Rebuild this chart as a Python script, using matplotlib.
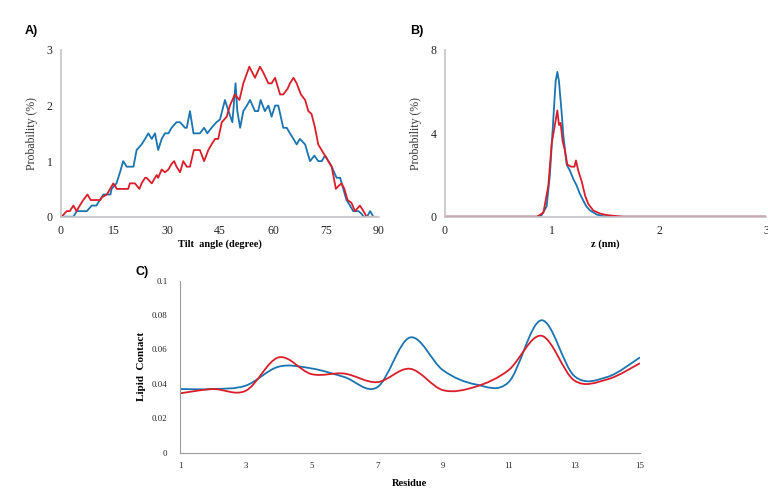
import matplotlib
matplotlib.use("Agg")
import matplotlib.pyplot as plt
from matplotlib.path import Path
from matplotlib.patches import PathPatch
import numpy as np

# A) tilt angle distribution (degree, probability %)
tilt_blue_x = [1, 3.5, 4.5, 7.3, 8.7, 10, 11, 12, 14, 14.3, 15.7, 16.7, 17.6, 18.6, 20.5, 21.4, 22.8,
               23.8, 24.7, 25.7, 26.6, 27.5, 28.5, 29.4, 30.4, 31.3, 32.7, 33.7, 35.1, 35.6, 36.5, 37.5,
               38.4, 39.3, 40.5, 41.4, 42.6, 44, 45, 46.4, 47.4, 48.5, 49.4, 49.9, 50.7, 51.6, 52.6,
               53.5, 54.9, 55.8, 56.5, 57.7, 58.7, 59.6, 60.6, 61.5, 62.9, 63.9, 64.8, 65.8, 66.7, 67.6,
               69.1, 70, 70.5, 71.7, 72.8, 73.8, 74.7, 75.7, 76.6, 78, 79, 79.9, 80.8, 81.8, 82.7, 84.2,
               85.1, 85.6, 86.6, 87.5, 88.4]
tilt_blue_y = [0, 0, 0.1, 0.1, 0.2, 0.2, 0.3, 0.4, 0.4, 0.5, 0.6, 0.8, 1.0, 0.9, 0.9, 1.2, 1.3,
               1.4, 1.5, 1.4, 1.5, 1.2, 1.4, 1.5, 1.5, 1.6, 1.7, 1.7, 1.6, 1.6, 1.9, 1.5,
               1.5, 1.5, 1.6, 1.5, 1.6, 1.7, 1.75, 2.1, 1.9, 1.7, 2.4, 1.9, 1.6, 1.9, 2.0,
               2.1, 1.9, 1.9, 2.1, 1.9, 2.0, 1.8, 2.0, 2.0, 1.6, 1.6, 1.5, 1.4, 1.3, 1.4,
               1.3, 1.1, 1.0, 1.1, 1.0, 1.0, 1.1, 1.0, 0.9, 0.7, 0.7, 0.5, 0.3, 0.2, 0.1, 0.1,
               0.05, 0, 0, 0.1, 0]
tilt_red_x = [0.2, 1.6, 2.5, 3.5, 4.4, 5.3, 6.3, 7.5, 8.4, 9.7, 11.1, 11.6, 13, 13.9, 14.8, 15.8, 17.2,
              19, 19.5, 20.9, 22.2, 22.8, 23.8, 24.2, 25.7, 26.6, 27.1, 27.5, 28.5, 29.4, 30.4, 31.3,
              32, 32.7, 33.7, 34.6, 35.6, 36.5, 37.6, 39.3, 40.5, 41.7, 42.6, 43.6, 44.5, 45.5, 46.9,
              47.8, 49.2, 50.5, 51.6, 53.3, 54.9, 56.3, 57.2, 58.7, 59.6, 60.6, 62, 62.9, 64.1, 64.8,
              65.8, 66.7, 67.9, 69.1, 70, 70.9, 71.9, 72.8, 74.7, 76.6, 77.2, 77.8, 78.5, 79.4, 80.2,
              81.1, 82.2, 83.2, 84.6, 85.6, 86.5]
tilt_red_y = [0, 0.1, 0.1, 0.2, 0.1, 0.2, 0.3, 0.4, 0.3, 0.3, 0.3, 0.35, 0.4, 0.5, 0.6, 0.5, 0.5,
              0.5, 0.6, 0.6, 0.5, 0.6, 0.7, 0.7, 0.6, 0.7, 0.75, 0.7, 0.85, 0.8, 0.85, 0.95,
              1.0, 0.9, 0.8, 1.0, 0.9, 0.9, 1.2, 1.2, 1.0, 1.2, 1.3, 1.4, 1.4, 1.7, 1.8,
              2.0, 2.2, 2.1, 2.4, 2.7, 2.5, 2.7, 2.6, 2.4, 2.4, 2.5, 2.2, 2.2, 2.3, 2.4,
              2.5, 2.4, 2.2, 2.1, 1.9, 1.85, 1.6, 1.3, 1.1, 0.9, 0.7, 0.5, 0.55, 0.6, 0.5,
              0.3, 0.25, 0.1, 0.2, 0.1, 0]
# faint tail of the red series along the axis
tilt_tail_x = [86.5, 89.3]
tilt_tail_y = [0, 0]

# B) z position distribution (nm, probability %)
z_blue_x = [0, 0.86, 0.9, 0.95, 0.98, 1.01, 1.034, 1.05, 1.065, 1.09, 1.106, 1.137, 1.168, 1.2,
            1.23, 1.26, 1.29, 1.32, 1.355, 1.42, 1.48, 1.55, 3]
z_blue_y = [0, 0, 0.05, 0.5, 2.0, 4.5, 6.5, 6.95, 6.5, 5.0, 3.9, 2.5, 2.2, 1.8,
            1.5, 1.1, 0.8, 0.5, 0.3, 0.1, 0.02, 0, 0]
z_red_x = [0, 0.86, 0.92, 0.966, 0.997, 1.03, 1.05, 1.065, 1.08, 1.1, 1.12, 1.143, 1.18, 1.21,
           1.224, 1.246, 1.277, 1.31, 1.34, 1.386, 1.45, 1.51, 1.6, 1.67, 3]
z_red_y = [0, 0, 0.2, 1.5, 3.5, 4.5, 5.1, 4.4, 4.5, 3.6, 3.2, 2.5, 2.4, 2.4,
           2.7, 2.2, 1.7, 1.0, 0.6, 0.3, 0.15, 0.08, 0.03, 0, 0]

# C) lipid contact per residue
residue = list(range(1, 16))
contact_blue = [0.037, 0.037, 0.039, 0.050, 0.049, 0.044, 0.038, 0.067, 0.048, 0.0397,
                0.041, 0.077, 0.0446, 0.044, 0.0554]
contact_red = [0.0345, 0.037, 0.036, 0.0554, 0.0457, 0.046, 0.041, 0.0488, 0.0364, 0.0384,
               0.048, 0.068, 0.042, 0.0426, 0.052]

blue = '#1a74b0'
red = '#d91e2a'
serif = 'Liberation Serif'
sans = 'Liberation Sans'


def smooth_path(x, y):
    # Excel-like smoothed line: cubic bezier through the points
    x = np.asarray(x, float)
    y = np.asarray(y, float)
    verts = [(x[0], y[0])]
    codes = [Path.MOVETO]
    n = len(x)
    for i in range(n - 1):
        p0 = (x[max(i - 1, 0)], y[max(i - 1, 0)])
        p1 = (x[i], y[i])
        p2 = (x[i + 1], y[i + 1])
        p3 = (x[min(i + 2, n - 1)], y[min(i + 2, n - 1)])
        c1 = (p1[0] + (p2[0] - p0[0]) / 6, p1[1] + (p2[1] - p0[1]) / 6)
        c2 = (p2[0] - (p3[0] - p1[0]) / 6, p2[1] - (p3[1] - p1[1]) / 6)
        verts += [c1, c2, p2]
        codes += [Path.CURVE4] * 3
    return Path(verts, codes)


def style_axes(ax, spine_color, labelsize):
    for s in ['top', 'right']:
        ax.spines[s].set_visible(False)
    for s in ['left', 'bottom']:
        ax.spines[s].set_color(spine_color)
        ax.spines[s].set_linewidth(1.2)
    ax.tick_params(length=0, labelsize=labelsize, pad=6, colors='#222222')
    for lab in ax.get_xticklabels() + ax.get_yticklabels():
        lab.set_fontfamily(serif)


fig = plt.figure(figsize=(7.68, 4.97), dpi=100)

# panel A
axA = fig.add_axes([61 / 768, 1 - 216.7 / 497, 318 / 768, 166.7 / 497])
axA.plot(tilt_blue_x, tilt_blue_y, color=blue, lw=1.3, solid_joinstyle='round')
axA.plot(tilt_red_x, tilt_red_y, color=red, lw=1.3, solid_joinstyle='round')
axA.plot(tilt_tail_x, tilt_tail_y, color='#f0a080', lw=1.6)
axA.set_xlim(0, 90)
axA.set_ylim(0, 3)
axA.set_xticks([0, 15, 30, 45, 60, 75, 90])
axA.set_yticks([0, 1, 2, 3])
style_axes(axA, '#c4c4c8', 8.5)
axA.set_xlabel('Tilt  angle (degree)', fontfamily=serif, fontweight='bold', fontsize=7.5, labelpad=2)
axA.set_ylabel('Probability (%)', fontfamily=serif, fontsize=8.5, color='#333333', labelpad=6)

# panel B
axB = fig.add_axes([445 / 768, 1 - 216.7 / 497, 321 / 768, 166.7 / 497])
axB.plot(z_blue_x, z_blue_y, color=blue, lw=1.3)
axB.plot(z_red_x, z_red_y, color=red, lw=1.3)
axB.set_xlim(0, 3)
axB.set_ylim(0, 8)
axB.set_xticks([0, 1, 2, 3])
axB.set_yticks([0, 4, 8])
style_axes(axB, '#c4c4c8', 8.5)
axB.set_xlabel('z (nm)', fontfamily=serif, fontweight='bold', fontsize=7.5, labelpad=2)
axB.set_ylabel('Probability (%)', fontfamily=serif, fontsize=8.5, color='#333333', labelpad=6)

# panel C
axC = fig.add_axes([180 / 768, 1 - 452.7 / 497, 460 / 768, 172 / 497])
axC.add_patch(PathPatch(smooth_path(residue, contact_blue), fill=False, edgecolor=blue, lw=1.3))
axC.add_patch(PathPatch(smooth_path(residue, contact_red), fill=False, edgecolor=red, lw=1.3))
axC.set_xlim(1, 15)
axC.set_ylim(0, 0.1)
axC.set_xticks([1, 3, 5, 7, 9, 11, 13, 15])
axC.set_yticks([0, 0.02, 0.04, 0.06, 0.08, 0.1])
axC.set_yticklabels(['0', '0.02', '0.04', '0.06', '0.08', '0.1'])
style_axes(axC, '#9a9a9a', 6.3)
axC.spines['left'].set_linewidth(0.8)
axC.spines['bottom'].set_linewidth(0.8)
axC.tick_params(axis='x', pad=7)
axC.tick_params(axis='y', pad=9)
axC.set_xlabel('Residue', fontfamily=serif, fontweight='bold', fontsize=7.5, labelpad=6)
axC.set_ylabel('Lipid  Contact', fontfamily=serif, fontweight='bold', fontsize=8, labelpad=4)

fig.text(25 / 768, 1 - 31 / 497, 'A)', fontfamily=sans, fontweight='bold', fontsize=9, va='center')
fig.text(410 / 768, 1 - 31 / 497, 'B)', fontfamily=sans, fontweight='bold', fontsize=9, va='center')
fig.text(135 / 768, 1 - 272 / 497, 'C)', fontfamily=sans, fontweight='bold', fontsize=9, va='center')

fig.savefig('out.png', dpi=100)
